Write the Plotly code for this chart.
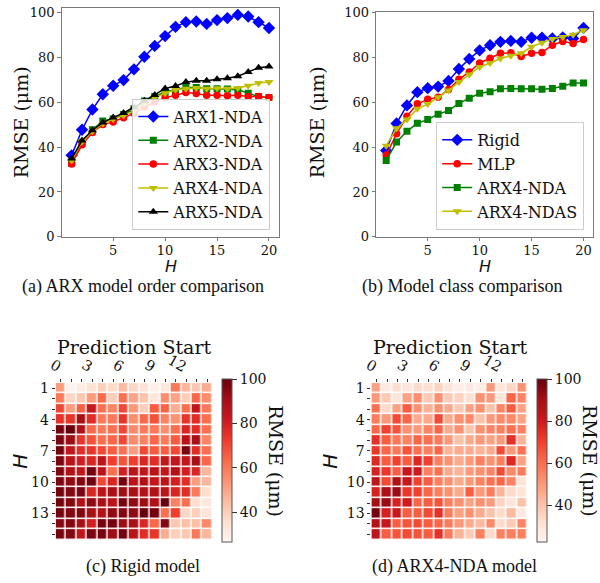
import plotly.graph_objects as go

W, HGT = 600, 583

# ---------------- data ----------------
horizon = list(range(1, 21))

arx1_nda = [36.3, 47.7, 56.7, 63.5, 67.3, 69.8, 74.6, 80.2, 85.0, 89.4, 93.5, 95.6, 95.9, 94.8, 96.5, 97.4, 98.8, 98.1, 95.6, 93.0]
arx2_nda = [32.8, 42.0, 47.7, 51.6, 52.5, 54.5, 57.0, 60.5, 62.5, 64.5, 65.5, 66.5, 66.5, 66.0, 66.0, 65.8, 65.5, 64.0, 62.5, 62.0]
arx3_nda = [32.5, 41.0, 46.5, 50.0, 51.2, 53.0, 55.0, 57.8, 60.0, 62.0, 63.0, 64.3, 63.8, 63.0, 63.0, 62.8, 63.0, 62.5, 62.5, 62.0]
arx4_nda_a = [34.0, 42.5, 47.0, 50.5, 52.5, 54.0, 56.0, 59.5, 62.0, 64.0, 65.5, 66.0, 66.3, 66.0, 66.2, 66.0, 66.3, 67.3, 68.5, 69.0]
arx5_nda = [34.9, 42.9, 47.5, 50.9, 53.1, 55.2, 57.7, 60.6, 63.2, 66.1, 67.2, 68.9, 69.5, 69.5, 70.2, 70.6, 71.5, 73.4, 75.3, 75.9]

rigid = [38.5, 50.5, 58.5, 64.4, 66.2, 66.9, 69.4, 74.7, 79.2, 83.0, 85.3, 86.8, 87.2, 86.8, 88.6, 88.6, 88.3, 88.8, 88.3, 93.0]
mlp = [36.4, 45.9, 53.7, 59.2, 61.2, 62.1, 65.6, 70.1, 73.4, 77.4, 79.5, 81.7, 81.9, 80.3, 81.7, 82.1, 85.3, 87.0, 86.1, 87.8]
arx4_nda_b = [34.0, 42.2, 47.0, 50.6, 52.2, 54.6, 56.2, 59.4, 61.7, 63.9, 64.6, 65.9, 66.0, 65.9, 65.9, 65.7, 66.0, 67.0, 68.5, 68.5]
arx4_ndas = [40.6, 48.3, 52.2, 57.0, 59.1, 62.1, 65.2, 68.9, 72.3, 75.6, 77.4, 79.4, 80.6, 81.7, 84.6, 86.4, 88.1, 89.0, 90.0, 91.9]

pred_start = list(range(15))
heat_h = list(range(1, 16))
x_tick_labels = ["0", "", "", "3", "", "", "6", "", "", "9", "", "", "12", "", ""]
y_tick_labels = ["1", "", "", "4", "", "", "7", "", "", "10", "", "", "13", "", ""]

rigid_map = [
    [52, 28, 31, 35, 40, 37, 45, 38, 35, 29, 32, 60, 46, 42, 48],
    [60, 38, 42, 52, 63, 40, 62, 50, 43, 32, 55, 50, 40, 64, 55],
    [70, 52, 65, 82, 62, 57, 70, 53, 40, 66, 65, 48, 62, 84, 60],
    [75, 74, 90, 76, 60, 60, 74, 55, 64, 68, 58, 54, 74, 76, 62],
    [98, 100, 88, 64, 60, 62, 70, 56, 60, 60, 55, 62, 78, 76, 62],
    [97, 92, 74, 68, 62, 64, 70, 56, 58, 64, 60, 66, 86, 90, 57],
    [98, 84, 76, 74, 70, 66, 62, 52, 70, 66, 66, 70, 97, 76, 62],
    [97, 86, 80, 78, 86, 72, 68, 72, 78, 76, 84, 84, 84, 90, 64],
    [96, 88, 84, 98, 86, 62, 80, 86, 84, 86, 84, 88, 80, 78, 46],
    [97, 94, 96, 98, 70, 78, 98, 86, 88, 84, 86, 80, 76, 52, 46],
    [98, 96, 97, 78, 86, 90, 92, 90, 88, 88, 86, 78, 76, 60, 36],
    [98, 96, 88, 94, 90, 86, 98, 94, 92, 88, 100, 58, 62, 36, 32],
    [98, 96, 96, 90, 88, 94, 96, 94, 100, 98, 62, 72, 38, 40, 34],
    [96, 96, 90, 80, 98, 98, 92, 90, 78, 64, 96, 42, 44, 44, 56],
    [98, 96, 84, 97, 98, 92, 98, 86, 76, 74, 48, 40, 42, 60, 46],
]

arx4_map = [
    [48, 28, 33, 30, 34, 33, 36, 30, 26, 28, 27, 50, 30, 35, 52],
    [50, 38, 30, 48, 53, 38, 52, 38, 36, 32, 52, 50, 30, 62, 55],
    [60, 34, 48, 64, 52, 44, 52, 46, 38, 48, 52, 40, 55, 64, 48],
    [57, 50, 68, 62, 46, 46, 68, 46, 52, 54, 40, 50, 54, 54, 48],
    [62, 70, 66, 52, 50, 55, 62, 46, 52, 40, 52, 55, 56, 60, 56],
    [74, 64, 58, 55, 62, 60, 57, 50, 40, 46, 50, 48, 50, 74, 44],
    [72, 62, 58, 66, 60, 56, 62, 44, 46, 46, 44, 46, 68, 50, 60],
    [76, 64, 70, 64, 76, 70, 56, 52, 46, 50, 56, 52, 56, 76, 48],
    [78, 72, 64, 82, 80, 56, 60, 46, 44, 50, 52, 55, 68, 54, 57],
    [84, 68, 88, 82, 70, 64, 56, 52, 46, 50, 55, 60, 62, 55, 30],
    [78, 88, 92, 72, 70, 62, 56, 52, 46, 64, 50, 57, 44, 34, 31],
    [90, 92, 78, 80, 62, 64, 66, 56, 52, 48, 52, 50, 36, 30, 40],
    [98, 78, 82, 64, 64, 68, 74, 57, 48, 52, 46, 40, 34, 42, 28],
    [86, 82, 64, 66, 68, 64, 62, 57, 50, 46, 42, 54, 34, 38, 55],
    [84, 64, 66, 68, 66, 64, 74, 57, 44, 38, 56, 34, 56, 56, 56],
]

# ---------------- style helpers ----------------
SERIF = "DejaVu Serif"
TIMES = "Liberation Serif"
SANS = "DejaVu Sans"
FRAME = "#7a7a7a"

reds = [[0.0, "#fff5f0"], [0.125, "#fee0d2"], [0.25, "#fcbba1"], [0.375, "#fc9272"],
        [0.5, "#fb6a4a"], [0.625, "#ef3b2c"], [0.75, "#cb181d"], [0.875, "#a50f15"], [1.0, "#67000d"]]


def px_x(p):
    return p / W


def px_y(p):
    return 1 - p / HGT


fig = go.Figure()

line_specs_a = [
    ("ARX1-NDA", arx1_nda, "#0000ff", "diamond", 9.5),
    ("ARX2-NDA", arx2_nda, "#008000", "square", 7),
    ("ARX3-NDA", arx3_nda, "#ff0000", "circle", 7.5),
    ("ARX4-NDA", arx4_nda_a, "#bfbf00", "triangle-down", 8),
    ("ARX5-NDA", arx5_nda, "#000000", "triangle-up", 8),
]
for name, vals, col, sym, sz in line_specs_a:
    fig.add_trace(go.Scatter(x=horizon, y=vals, name=name, mode="lines+markers",
                             line=dict(color=col, width=1.5),
                             marker=dict(symbol=sym, size=sz, color=col),
                             xaxis="x", yaxis="y", legend="legend"))

line_specs_b = [
    ("Rigid", rigid, "#0000ff", "diamond", 9.5),
    ("MLP", mlp, "#ff0000", "circle", 7.5),
    ("ARX4-NDA", arx4_nda_b, "#008000", "square", 7),
    ("ARX4-NDAS", arx4_ndas, "#bfbf00", "triangle-down", 8),
]
for name, vals, col, sym, sz in line_specs_b:
    fig.add_trace(go.Scatter(x=horizon, y=vals, name=name, mode="lines+markers",
                             line=dict(color=col, width=1.5),
                             marker=dict(symbol=sym, size=sz, color=col),
                             xaxis="x2", yaxis="y2", legend="legend2"))

cb_common = dict(thickness=10, lenmode="pixels", len=163, yanchor="middle",
                 y=px_y(465.5), xanchor="left", xpad=0, ypad=0,
                 outlinecolor="#555555", outlinewidth=1,
                 tickvals=[40, 60, 80, 100], ticks="outside", ticklen=5,
                 tickcolor="#333333", tickfont=dict(family=SERIF, size=14, color="#111111"))

fig.add_trace(go.Heatmap(z=rigid_map, x=pred_start, y=heat_h, colorscale=reds,
                         zmin=26.5, zmax=100, xgap=1.5, ygap=1.5,
                         xaxis="x3", yaxis="y3",
                         colorbar=dict(x=px_x(216.7), **cb_common)))
fig.add_trace(go.Heatmap(z=arx4_map, x=pred_start, y=heat_h, colorscale=reds,
                         zmin=22.7, zmax=100, xgap=1.5, ygap=1.5,
                         xaxis="x4", yaxis="y4",
                         colorbar=dict(x=px_x(536), **cb_common)))

tickfont = dict(family=SERIF, size=13, color="#111111")

line_x = dict(range=[0.05, 20.95], tickvals=[5, 10, 15, 20], showline=True, mirror=True,
              linecolor=FRAME, linewidth=1.2, ticks="outside", ticklen=3, tickcolor=FRAME,
              ticklabelstandoff=-2,
              showgrid=False, zeroline=False, tickfont=tickfont)
line_y = dict(tickvals=[0, 20, 40, 60, 80, 100], showline=True, mirror=True,
              linecolor=FRAME, linewidth=1.2, ticks="outside", ticklen=3.5, tickcolor=FRAME,
              showgrid=False, zeroline=False, tickfont=tickfont)

heat_x = dict(range=[-0.5, 14.5], side="top", tickvals=pred_start, ticktext=x_tick_labels,
              tickangle=30, ticks="outside", ticklen=3, tickcolor="#333333",
              showgrid=False, zeroline=False, showline=False,
              tickfont=dict(family=SERIF, size=14.5, color="#111111"))
heat_y = dict(range=[15.5, 0.5], tickvals=heat_h, ticktext=y_tick_labels,
              ticks="outside", ticklen=3, tickcolor="#333333",
              showgrid=False, zeroline=False, showline=False,
              tickfont=dict(family=SERIF, size=14, color="#111111"))

legend_common = dict(xanchor="left", yanchor="top",
                     bgcolor="rgba(255,255,255,0.85)", bordercolor="#cccccc", borderwidth=1,
                     font=dict(family=SERIF, size=16, color="#111111"))

fig.update_layout(
    width=W, height=HGT, margin=dict(l=0, r=0, t=0, b=0),
    paper_bgcolor="white", plot_bgcolor="white",
    xaxis=dict(domain=[px_x(54.5), px_x(274.5)], anchor="y", **line_x),
    yaxis=dict(domain=[px_y(236), px_y(1)], anchor="x", range=[0, 101.9], **line_y),
    xaxis2=dict(domain=[px_x(373.3), px_x(593.3)], anchor="y2", **line_x),
    yaxis2=dict(domain=[px_y(236), px_y(5.3)], anchor="x2", range=[0, 100], **line_y),
    xaxis3=dict(domain=[px_x(48.3), px_x(207.3)], anchor="y3", **heat_x),
    yaxis3=dict(domain=[px_y(546.7), px_y(386)], anchor="x3", **heat_y),
    xaxis4=dict(domain=[px_x(368.3), px_x(526.7)], anchor="y4", **heat_x),
    yaxis4=dict(domain=[px_y(546.7), px_y(386)], anchor="x4", **heat_y),
    legend=dict(x=px_x(126), y=px_y(94), **legend_common),
    legend2=dict(x=px_x(434), y=px_y(118), **legend_common),
    showlegend=True,
)

annots = [
    # y-axis titles of line plots
    dict(text="RMSE (μm)", x=px_x(14), y=px_y(118.5), textangle=-90, size=19, family=SERIF),
    dict(text="RMSE (μm)", x=px_x(314), y=px_y(118.5), textangle=-90, size=19, family=SERIF),
    # x titles
    dict(text="<i>H</i>", x=px_x(165), y=px_y(266.5), textangle=0, size=16, family=SANS),
    dict(text="<i>H</i>", x=px_x(483.8), y=px_y(266.5), textangle=0, size=16, family=SANS),
    # captions
    dict(text="(a) ARX model order comparison", x=px_x(137), y=px_y(287), textangle=0, size=18, family=TIMES),
    dict(text="(b) Model class comparison", x=px_x(460), y=px_y(287), textangle=0, size=18, family=TIMES),
    dict(text="(c) Rigid model", x=px_x(136.7), y=px_y(574), textangle=0, size=18, family=TIMES),
    dict(text="(d) ARX4-NDA model", x=px_x(452.5), y=px_y(574), textangle=0, size=18, family=TIMES),
    # heatmap titles
    dict(text="Prediction Start", x=px_x(127.8), y=px_y(349), textangle=0, size=19, family=SERIF),
    dict(text="Prediction Start", x=px_x(447.5), y=px_y(349), textangle=0, size=19, family=SERIF),
    dict(text="<i>H</i>", x=px_x(12), y=px_y(466), textangle=-90, size=20, family=SANS),
    dict(text="<i>H</i>", x=px_x(326), y=px_y(466), textangle=-90, size=20, family=SANS),
    # colorbar titles
    dict(text="RMSE (μm)", x=px_x(271.5), y=px_y(466), textangle=90, size=19, family=SERIF),
    dict(text="RMSE (μm)", x=px_x(590), y=px_y(466), textangle=90, size=19, family=SERIF),
]
for a in annots:
    fig.add_annotation(text=a["text"], x=a["x"], y=a["y"], xref="paper", yref="paper",
                       xanchor="center", yanchor="middle", showarrow=False,
                       textangle=a["textangle"],
                       font=dict(family=a["family"], size=a["size"], color="#111111"))

fig.write_html("out.html", config={"displayModeBar": False},
               post_script="document.body.style.margin='0';document.body.style.overflow='hidden';")
